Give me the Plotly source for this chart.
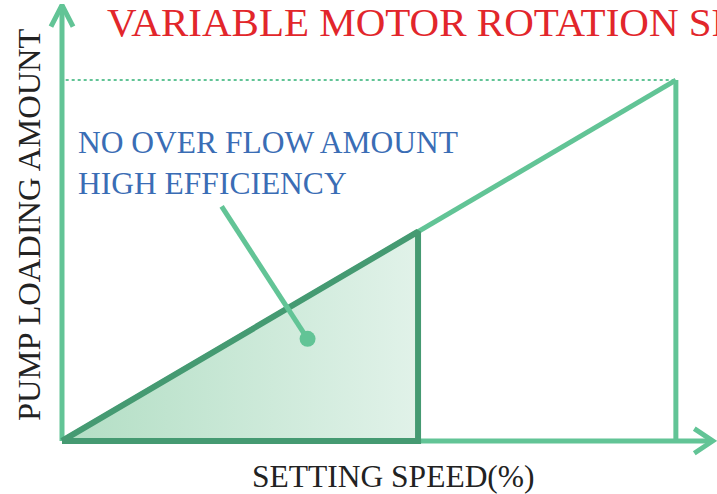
import plotly.graph_objects as go

# ---- data (chart units: setting speed %, pump loading amount %) ----
speed = [0, 100]            # full-speed characteristic line
loading = [0, 100]
set_speed = [0, 58, 58]     # operating point region (triangle)
set_loading = [0, 58, 0]
max_speed = [100, 100]
max_loading = [0, 100]
callout_x = [26, 40]        # pointer from label to region
callout_y = [65, 28.3]
axis_x_end = 106
axis_y_end = 120.8

title_text = "VARIABLE MOTOR ROTATION SPEED"
x_label = "SETTING SPEED(%)"
y_label = "PUMP LOADING AMOUNT"
note_text = "NO OVER FLOW AMOUNT<br>HIGH EFFICIENCY"

LIGHT = "#62C496"
DARK = "#459A72"
RED = "#E2262B"
BLUE = "#3A6DB5"
FONT = "Liberation Serif"

W, H = 717, 494

fig = go.Figure()

# dotted reference line at max loading
fig.add_trace(go.Scatter(x=[0.6, max_speed[0]], y=[max_loading[1], max_loading[1]], mode="lines",
                         line=dict(color=LIGHT, width=2, dash="dot"), hoverinfo="skip"))
# full characteristic line
fig.add_trace(go.Scatter(x=speed, y=loading, mode="lines",
                         line=dict(color=LIGHT, width=5), hoverinfo="skip"))
# vertical at max speed
fig.add_trace(go.Scatter(x=max_speed, y=max_loading, mode="lines",
                         line=dict(color=LIGHT, width=5), hoverinfo="skip"))
# axes
fig.add_trace(go.Scatter(x=[0, axis_x_end], y=[0, 0], mode="lines",
                         line=dict(color=LIGHT, width=5), hoverinfo="skip"))
fig.add_trace(go.Scatter(x=[0, 0], y=[0, axis_y_end], mode="lines",
                         line=dict(color=LIGHT, width=5), hoverinfo="skip"))
# arrow chevrons
fig.add_trace(go.Scatter(x=[axis_x_end - 3.0, axis_x_end, axis_x_end - 3.0],
                         y=[3.4, 0, -3.4], mode="lines",
                         line=dict(color=LIGHT, width=5), hoverinfo="skip"))
fig.add_trace(go.Scatter(x=[-1.8, 0, 1.8],
                         y=[axis_y_end - 6.0, axis_y_end, axis_y_end - 6.0], mode="lines",
                         line=dict(color=LIGHT, width=5), hoverinfo="skip"))
# operating triangle with gradient fill
fig.add_trace(go.Scatter(x=set_speed + [set_speed[0]], y=set_loading + [set_loading[0]],
                         mode="lines", fill="toself",
                         fillgradient=dict(type="horizontal",
                                           colorscale=[[0, "#B2DEC4"], [1, "#E1F2E9"]]),
                         line=dict(color=DARK, width=6), hoverinfo="skip"))
# callout pointer
fig.add_trace(go.Scatter(x=callout_x, y=callout_y, mode="lines",
                         line=dict(color=LIGHT, width=5), hoverinfo="skip"))
fig.add_trace(go.Scatter(x=[callout_x[1]], y=[callout_y[1]], mode="markers",
                         marker=dict(color=LIGHT, size=16), hoverinfo="skip"))

def px(x):
    return x / W

def py(y):
    return 1 - y / H

fig.add_annotation(text=title_text, x=px(105), y=py(22), xref="paper", yref="paper",
                   xanchor="left", yanchor="middle", showarrow=False,
                   font=dict(family=FONT, size=41, color=RED))
fig.add_annotation(text=note_text, x=px(76), y=py(163), xref="paper", yref="paper",
                   xanchor="left", yanchor="middle", align="left", showarrow=False,
                   font=dict(family=FONT, size=31.5, color=BLUE))
fig.add_annotation(text=x_label, x=px(393), y=py(476), xref="paper", yref="paper",
                   xanchor="center", yanchor="middle", showarrow=False,
                   font=dict(family=FONT, size=31.5, color="#222222"))
fig.add_annotation(text=y_label, x=px(29), y=py(225), xref="paper", yref="paper",
                   xanchor="center", yanchor="middle", textangle=-90, showarrow=False,
                   font=dict(family=FONT, size=32.5, color="#222222"))

fig.update_layout(
    width=W, height=H,
    margin=dict(l=0, r=0, t=0, b=0),
    paper_bgcolor="white", plot_bgcolor="white",
    showlegend=False,
    xaxis=dict(range=[-10.1, 106.7], visible=False, fixedrange=True),
    yaxis=dict(range=[-14.7, 122.2], visible=False, fixedrange=True),
)

fig.write_html("out.html", config={"displayModeBar": False},
               post_script="document.body.style.margin='0';document.body.style.overflow='hidden';")
